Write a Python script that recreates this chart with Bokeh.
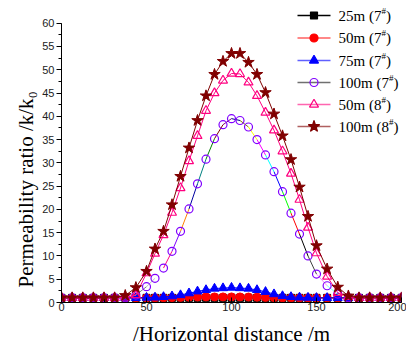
from bokeh.plotting import figure
from bokeh.models import Range1d, SingleIntervalTicker
from bokeh.embed import file_html
from bokeh.resources import INLINE
from bokeh.core.properties import value

# Horizontal positions of the monitoring points (m); denser mesh in the middle
distance = [0, 6.25, 12.5, 18.75, 25, 31.25, 37.5, 43.75,
            50, 55, 60, 65, 70, 75, 80, 85, 90, 95, 100, 105, 110, 115, 120, 125,
            130, 135, 140, 145, 150,
            156.25, 162.5, 168.75, 175, 181.25, 187.5, 193.75, 200]

# Permeability ratio k/k0 for each case
k_25m_7 = [1.0, 1.0, 1.0, 1.0, 1.0, 1.0, 1.0, 1.0,
           1.0, 1.0, 1.0, 1.0, 1.0, 1.0, 1.0, 1.0, 1.0, 1.0, 1.0, 1.0, 1.0, 1.0, 1.0, 1.0,
           1.0, 1.0, 1.0, 1.0, 1.0,
           1.0, 1.0, 1.0, 1.0, 1.0, 1.0, 1.0, 1.0]
k_50m_7 = [1.0, 1.0, 1.0, 1.0, 1.0, 1.0, 1.0, 1.0,
           1.0, 1.0, 1.02, 1.05, 1.1, 1.15, 1.18, 1.2, 1.2, 1.2, 1.2, 1.2, 1.18, 1.15, 1.1, 1.05,
           1.02, 1.0, 1.0, 1.0, 1.0,
           1.0, 1.0, 1.0, 1.0, 1.0, 1.0, 1.0, 1.0]
k_75m_7 = [1.0, 1.0, 1.0, 1.0, 1.0, 1.0, 1.0, 1.0,
           1.05, 1.1, 1.2, 1.35, 1.6, 2.0, 2.4, 2.7, 3.0, 3.1, 3.2, 3.1, 3.0, 2.7, 2.3, 1.8,
           1.4, 1.2, 1.1, 1.05, 1.0,
           1.0, 1.0, 1.0, 1.0, 1.0, 1.0, 1.0, 1.0]
k_100m_7 = [1.0, 1.0, 1.0, 1.0, 1.0, 1.0, 1.0, 1.6,
            3.4, 5.2, 7.4, 11.0, 15.3, 20.1, 25.5, 30.8, 35.2, 38.2, 39.5, 39.1, 37.7, 35.0, 31.7, 28.1,
            23.8, 19.2, 14.7, 10.0, 6.1,
            3.6, 1.8, 1.0, 1.0, 1.0, 1.0, 1.0, 1.0]
k_50m_8 = [1.0, 1.0, 1.0, 1.0, 1.0, 1.0, 1.1, 1.6,
           6.3, 10.5, 14.5, 19.3, 24.6, 30.4, 35.8, 41.2, 45.0, 47.7, 49.2, 49.1, 47.3, 44.4, 40.8, 37.0,
           32.5, 27.7, 22.1, 16.1, 10.6,
           5.6, 2.1, 1.2, 1.0, 1.0, 1.0, 1.0, 1.0]
k_100m_8 = [1.0, 1.0, 1.0, 1.0, 1.0, 1.0, 1.5, 3.2,
            6.7, 11.5, 15.3, 21.0, 27.1, 33.2, 39.1, 44.4, 49.0, 51.8, 53.5, 53.5, 51.6, 49.0, 45.1, 40.5,
            35.8, 30.7, 24.8, 18.5, 12.2,
            7.2, 3.3, 1.4, 1.0, 1.0, 1.0, 1.0, 1.0]

# Frame geometry (pixels)
W, H = 406, 350
LEFT, RIGHT, TOP, BOTTOM = 61, 5, 2, 48
FW, FH = W - LEFT - RIGHT, H - TOP - BOTTOM
Y_AXIS_MAX = 60
Y_TOP = 64.45

p = figure(width=W, height=H, output_backend="svg", toolbar_location=None,
           x_range=Range1d(0, 200), y_range=Range1d(0, Y_TOP),
           min_border_left=LEFT, min_border_right=RIGHT,
           min_border_top=TOP, min_border_bottom=BOTTOM)
p.outline_line_color = None
p.xgrid.visible = False
p.ygrid.visible = False
p.background_fill_color = "white"

for ax in (p.xaxis[0], p.yaxis[0]):
    ax.axis_line_color = "black"
    ax.axis_line_width = 1
    ax.major_tick_line_color = "black"
    ax.minor_tick_line_color = "black"
    ax.major_label_text_font = "Liberation Sans"
    ax.major_label_text_font_size = "11px"
    ax.major_label_text_color = "#222222"
    ax.axis_label_text_font = "Liberation Serif"
    ax.axis_label_text_font_style = "normal"
    ax.axis_label_text_color = "black"

yax = p.yaxis[0]
yax.ticker = SingleIntervalTicker(interval=5, num_minor_ticks=2)
yax.bounds = (0, Y_AXIS_MAX)
yax.major_tick_in, yax.major_tick_out = 0, 5
yax.minor_tick_in, yax.minor_tick_out = 0, 3
yax.major_label_standoff = 2
# trailing no-break spaces push the centred title towards the bottom of the axis
yax.axis_label = "Permeability ratio /k/k\u2080" + "\u00a0" * 14
yax.axis_label_text_font_size = "21px"
yax.axis_label_standoff = 1

xax = p.xaxis[0]
xax.ticker = SingleIntervalTicker(interval=50, num_minor_ticks=2)
xax.bounds = (0, 200)
xax.major_tick_in, xax.major_tick_out = 5, 0
xax.minor_tick_in, xax.minor_tick_out = 3, 0
xax.major_label_standoff = 0
xax.axis_label = "/Horizontal distance /m"
xax.axis_label_text_font_size = "21px"
xax.axis_label_standoff = 8

# Origin-style colour increment used for the 100m (7#) line segments
origin_colors = ["#000000", "#FF0000", "#00FF00", "#0000FF", "#00FFFF", "#FF00FF",
                 "#FFFF00", "#808000", "#000080", "#800080", "#800000", "#008000",
                 "#008080", "#0000A0", "#FF8000", "#8000FF", "#FF0080", "#FFFFFF",
                 "#C0C0C0", "#808080", "#FFFF80", "#80FFFF", "#FF80FF", "#404040"]

# 25m (7#)
p.line(distance, k_25m_7, line_color="black", line_width=1)
p.scatter(distance, k_25m_7, marker="square", size=7, fill_color="black", line_color="black")
# 50m (7#)
p.line(distance, k_50m_7, line_color="#FF0000", line_width=1)
p.scatter(distance, k_50m_7, marker="circle", size=8, fill_color="#FF0000", line_color="#FF0000")
# 75m (7#)
p.line(distance, k_75m_7, line_color="#0000FF", line_width=1)
p.scatter(distance, k_75m_7, marker="triangle", size=9, fill_color="#0000FF", line_color="#0000FF")
# 100m (7#): each segment takes the next colour of the increment list
n = len(distance)
seg_colors = [origin_colors[(26 - i) % len(origin_colors)] for i in range(n - 1)]
p.segment(x0=distance[:-1], y0=k_100m_7[:-1], x1=distance[1:], y1=k_100m_7[1:],
          line_color=seg_colors, line_width=1)
p.scatter(distance, k_100m_7, marker="circle", size=8, fill_color="white",
          fill_alpha=0, line_color="#8000FF", line_width=1.2)
# 50m (8#)
p.line(distance, k_50m_8, line_color="#FF0080", line_width=1)
p.scatter(distance, k_50m_8, marker="triangle", size=9, fill_color="white",
          fill_alpha=0, line_color="#FF0080", line_width=1.2)
# 100m (8#)
p.line(distance, k_100m_8, line_color="#800000", line_width=1)
p.scatter(distance, k_100m_8, marker="star", size=12, fill_color="#800000", line_color="#800000")

# ---- legend (built by hand so that the "#" can be set as a superscript) ----
def to_data(px, py):
    return ((px - LEFT) * 200.0 / FW, (TOP + FH - py) * Y_TOP / FH)

# Times-compatible advance widths (em) for the legend characters
ADV = {"0": .5, "1": .5, "2": .5, "5": .5, "7": .5, "8": .5, "m": .778,
       " ": .25, "(": .333, ")": .333, "#": .5}

def text_width(s, size):
    return sum(ADV[c] for c in s) * size

legend_rows = [
    ("25m (7", "black", "black", "square", 7, "black"),
    ("50m (7", "#FF6060", "#FF0000", "circle", 8, "#FF0000"),
    ("75m (7", "#6060FF", "#0000FF", "triangle", 9, "#0000FF"),
    ("100m (7", "#707070", "#8000FF", "circle", 8, None),
    ("50m (8", "#FF66B0", "#FF0080", "triangle", 9, None),
    ("100m (8", "#B06060", "#800000", "star", 12, "#800000"),
]
row_y = [15, 37.5, 60, 82, 104, 126]
LINE_X0, LINE_X1, MARK_X, TEXT_X = 297, 330, 313.5, 338
FS, SUP = 15, 9
for (lab, lcol, mcol, mk, sz, fill), py in zip(legend_rows, row_y):
    xa, ya = to_data(LINE_X0, py)
    xb, _ = to_data(LINE_X1, py)
    xm, _ = to_data(MARK_X, py)
    p.line([xa, xb], [ya, ya], line_color=lcol, line_width=1.5)
    p.scatter([xm], [ya], marker=mk, size=sz,
              fill_color=fill if fill else "white", fill_alpha=1 if fill else 0,
              line_color=mcol, line_width=1.2)
    xt, yt = to_data(TEXT_X, py)
    p.text([xt], [yt], text=[lab], text_font=value("Liberation Serif"),
           text_font_size=f"{FS}px", text_baseline="middle", text_align="left",
           text_color="black")
    w0 = text_width(lab, FS)
    xs, ys = to_data(TEXT_X + w0, py - 5)
    p.text([xs], [ys], text=["#"], text_font=value("Liberation Serif"),
           text_font_size=f"{SUP}px", text_baseline="middle", text_align="left",
           text_color="black")
    xc, yc = to_data(TEXT_X + w0 + text_width("#", SUP), py)
    p.text([xc], [yc], text=[")"], text_font=value("Liberation Serif"),
           text_font_size=f"{FS}px", text_baseline="middle", text_align="left",
           text_color="black")

open("out.html", "w").write(file_html(p, INLINE))
